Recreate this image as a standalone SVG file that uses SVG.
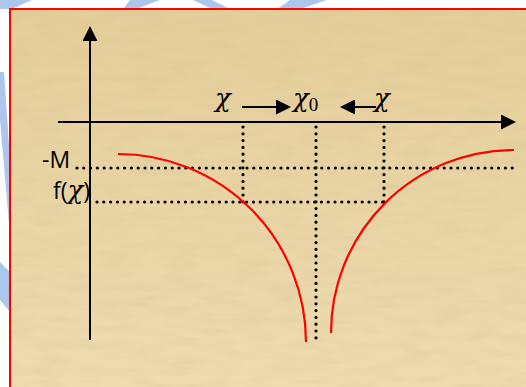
<svg xmlns="http://www.w3.org/2000/svg" width="526" height="387" viewBox="0 0 526 387">
<defs>
<style>
.axis{stroke:#000;stroke-width:2;fill:none}
.dots{stroke:#000;stroke-width:3.2;stroke-linecap:round;stroke-dasharray:0 6.8;fill:none}
.curve{stroke:#ff0000;stroke-width:2.2;fill:none}
.lbl{font-family:"Open Sans","Liberation Sans",sans-serif;font-size:23px;fill:#000}
.chi{font-family:"DejaVu Serif","Liberation Serif",serif;font-style:italic;font-size:26px;fill:#000}
.sub{font-family:"Liberation Serif","DejaVu Serif",serif;font-style:normal;font-size:19px}
.wm{fill:#adc6ec}
</style>
<marker id="ah" markerUnits="userSpaceOnUse" markerWidth="15" markerHeight="15" refX="0" refY="7.5" orient="auto" viewBox="0 0 15 15"><path d="M0,0 L15,7.5 L0,15 z" fill="#000"/></marker>
<linearGradient id="paper" x1="0" y1="0" x2="0" y2="1"><stop offset="0" stop-color="#e4cd99"/><stop offset="1" stop-color="#eedcb0"/></linearGradient>
<filter id="tex" x="0" y="0" width="1" height="1"><feTurbulence type="fractalNoise" baseFrequency="0.03 0.12" numOctaves="2" seed="3"/><feColorMatrix type="matrix" values="0 0 0 0 0.6  0 0 0 0 0.48  0 0 0 0 0.25  0.4 0 0 0 -0.15"/></filter>
</defs>
<rect width="526" height="387" fill="#fff"/>
<g id="watermark">
<polygon class="wm" points="0,0 32,0 12,9 0,9"/>
<polygon class="wm" points="123,9 136,9 160,0 130,0"/>
<polygon class="wm" points="193,0 212,0 230,9 212,9"/>
<polygon class="wm" points="277,9 300,9 327,0 290,0"/>
<polygon class="wm" points="0,72 4,72 10,160 10,235 0,120"/>
<polygon class="wm" points="0,262 10,272 10,312 0,300"/>
</g>
<g id="paper-bg">
<rect x="10" y="9" width="520" height="382" fill="url(#paper)" stroke="#ff0000" stroke-width="2"/>
<rect x="11" y="10" width="515" height="377" filter="url(#tex)"/>
</g>
<g id="connectors">
<path id="y-axis" class="axis" d="M90,340 V41" marker-end="url(#ah)"/>
<path id="x-axis" class="axis" d="M58,122 H501" marker-end="url(#ah)"/>
<path id="arrow-right" class="axis" d="M242,107 H276" marker-end="url(#ah)"/>
<path id="arrow-left" class="axis" d="M376,107 H355" marker-end="url(#ah)"/>
</g>
<g id="guides">
<path class="dots" d="M77,168 H513"/>
<path class="dots" d="M97,202 H384"/>
<path class="dots" d="M243,127 V202"/>
<path class="dots" d="M316,127 V342"/>
<path class="dots" d="M384,127 V202"/>
</g>
<g id="curves">
<path id="curve-left" class="curve" d="M118,154 A188,188 0 0 1 306,342"/>
<path id="curve-right" class="curve" d="M331,333 A183,183 0 0 1 514,150"/>
</g>
<g id="labels">
<text class="lbl" x="42" y="168">-M</text>
<text class="lbl" x="53" y="199">f(<tspan class="chi" font-size="24">χ</tspan>)</text>
<text class="chi" x="215" y="107">χ</text>
<text class="chi" x="293" y="107">χ<tspan class="sub" dy="4">0</tspan></text>
<text class="chi" x="374" y="107">χ</text>
</g>
</svg>
